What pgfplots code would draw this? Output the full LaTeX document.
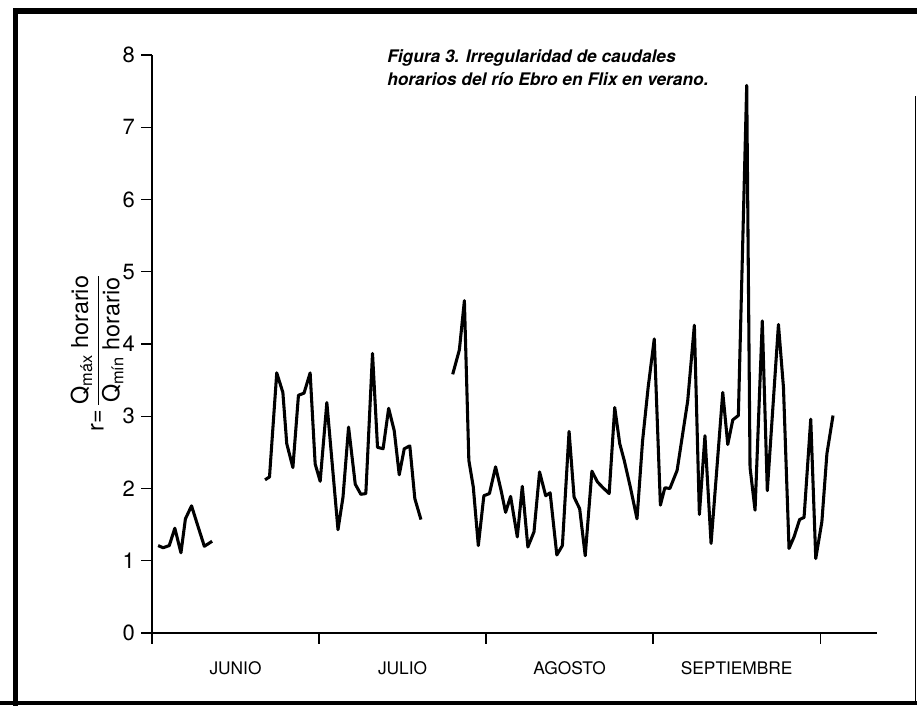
\documentclass[border=0pt]{standalone}
\usepackage{pgfplots}
\pgfplotsset{compat=1.18}
\usepackage{fontspec}
\setmainfont{TeX Gyre Heros}
\begin{document}
\begin{tikzpicture}[x=0.75pt,y=0.75pt]
\path[use as bounding box] (0,0) rectangle (917,706);
\draw[line width=3.8pt] (15.5,0) -- (15.5,695) -- (917,695);
\draw[line width=3pt] (0,2.5) -- (917,2.5);
\draw[line width=1.2pt] (915.5,2.5) -- (915.5,610);
\begin{axis}[
  at={(114pt,54.75pt)}, anchor=south west,
  scale only axis, width=543.75pt, height=433.5pt,
  xmin=0, xmax=130.2, ymin=0, ymax=8,
  axis lines=left,
  axis line style={-, line width=1.1pt, black},
  xtick={0,30,60,90,120}, xticklabels={},
  ytick={0,1,...,8},
  tick align=outside,
  major tick length=8.25pt,
  tick style={line width=1pt, black},
  /pgf/number format/assume math mode=true,
  yticklabel style={font=\fontsize{16.5}{19}\selectfont, xshift=-1pt},
  extra x ticks={15,45,75,105},
  extra x tick labels={JUNIO,JULIO,AGOSTO,SEPTIEMBRE},
  extra x tick style={major tick length=0pt, tick label style={font=\fontsize{13}{15}\selectfont, yshift=-18pt}},
  clip=false,
]
\addplot[black, line width=2.3pt, line join=round, no marks] coordinates {
(1.1,1.21)(2.0,1.18)(3.1,1.21)(4.1,1.45)(5.2,1.11)(6.0,1.58)(7.1,1.76)(8.2,1.49)(9.4,1.20)(10.8,1.27)
};
\addplot[black, line width=2.3pt, line join=round, no marks] coordinates {
(20.3,2.12)(21.1,2.16)(22.4,3.60)(23.5,3.33)(24.2,2.62)(25.3,2.29)(26.3,3.29)(27.3,3.32)(28.4,3.60)(29.3,2.34)(30.2,2.10)(31.4,3.19)(33.4,1.43)(34.3,1.88)(35.3,2.85)(36.5,2.06)(37.5,1.92)(38.4,1.93)(39.6,3.87)(40.5,2.57)(41.5,2.55)(42.5,3.11)(43.5,2.80)(44.4,2.19)(45.3,2.55)(46.3,2.59)(47.2,1.86)(48.3,1.57)
};
\addplot[black, line width=2.3pt, line join=round, no marks] coordinates {
(54.0,3.58)(55.2,3.92)(56.1,4.60)(56.9,2.39)(57.7,2.02)(58.6,1.21)(59.6,1.90)(60.6,1.93)(61.7,2.30)(62.7,1.97)(63.5,1.67)(64.4,1.89)(65.6,1.33)(66.5,2.03)(67.5,1.19)(68.6,1.40)(69.6,2.23)(70.7,1.90)(71.5,1.94)(72.7,1.08)(73.7,1.21)(74.9,2.79)(75.8,1.88)(76.8,1.72)(77.8,1.07)(79.0,2.24)(80.0,2.09)(81.0,2.01)(82.1,1.93)(83.1,3.12)(84.0,2.62)(84.8,2.39)(85.9,2.02)(87.1,1.58)(88.1,2.66)(89.1,3.40)(90.2,4.07)(91.3,1.77)(92.1,2.01)(93.0,2.00)(94.3,2.25)(96.2,3.21)(97.4,4.26)(98.3,1.64)(99.3,2.73)(100.4,1.24)(102.5,3.33)(103.4,2.61)(104.3,2.95)(105.3,3.01)(106.8,7.58)(107.4,2.29)(108.3,1.70)(109.6,4.32)(110.5,1.97)(112.5,4.27)(113.4,3.40)(114.4,1.17)(115.3,1.33)(116.3,1.57)(117.1,1.60)(118.3,2.96)(119.2,1.03)(120.3,1.54)(121.2,2.48)(122.3,3.01)
};
\end{axis}
\node[anchor=north west, inner sep=0pt, align=left, font=\bfseries\itshape\fontsize{13}{17.5}\selectfont] at (387,657)
  {Figura 3. Irregularidad de caudales\\horarios del río Ebro en Flix en verano.};
\node[rotate=90, inner sep=0pt, font=\fontsize{17.5}{20}\selectfont] at (97,353)
  {r=\,$\displaystyle\frac{\mbox{Q\textsubscript{máx} horario}}{\mbox{Q\textsubscript{mín} horario}}$};
\end{tikzpicture}
\end{document}
